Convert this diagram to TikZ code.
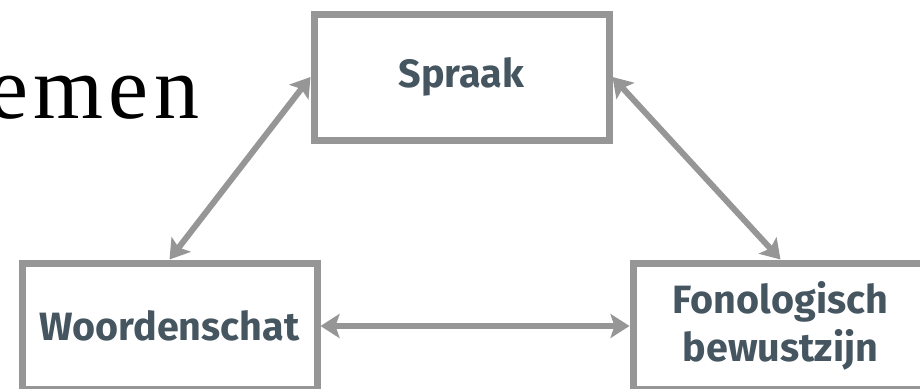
\documentclass[tikz,border=0pt]{standalone}
\usepackage{fontspec}
\usepackage{tikz}
\usetikzlibrary{arrows.meta,positioning}
\newfontfamily\boxfont{Fira Sans}
\newfontfamily\titlefont[LetterSpace=6]{Liberation Serif}
\definecolor{boxgray}{HTML}{969696}
\definecolor{slate}{HTML}{465661}

\tikzset{
    block/.style={draw=boxgray, line width=7pt, fill=white, minimum width=295pt,
                  minimum height=126pt, align=center, text=slate,
                  font=\boxfont\bfseries\fontsize{39.5}{48}\selectfont},
    link/.style={draw=boxgray, line width=6pt,
                 {Stealth[length=19pt,width=24pt,inset=4pt]}-{Stealth[length=19pt,width=24pt,inset=4pt]}}
}

\begin{document}
\begin{tikzpicture}[x=1pt,y=-1pt]
        \useasboundingbox (0, 0) rectangle (920, 388);
        \clip (0, 0) rectangle (920, 388);

        \node[anchor=base west, inner sep=0pt, font=\titlefont\fontsize{90}{90}\selectfont]
            (title) at (-12, 118) {emen};

        \node[block] (spraak) at (461.5, 77) {Spraak};
        \node[block] (woorden) at (169.5, 326) {Woordenschat};
        \node[block] (fono) at (780.5, 326) {Fonologisch\\bewustzijn};

        \draw[link] (spraak.west) -- (woorden.north);
        \draw[link] (spraak.east) -- (fono.north);
        \draw[link] (woorden.east) -- (fono.west);
    \end{tikzpicture}
\end{document}
